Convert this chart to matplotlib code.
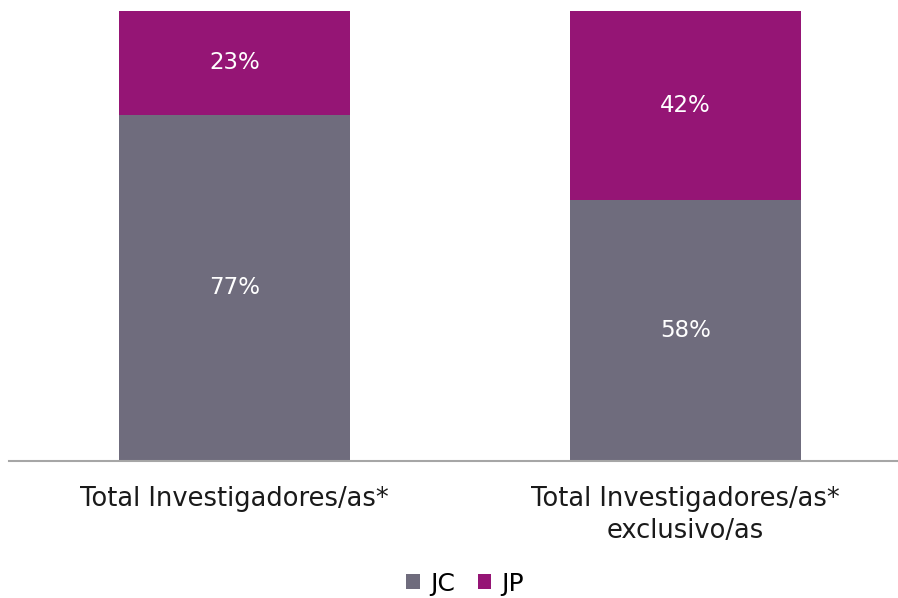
import matplotlib
matplotlib.use("Agg")
import matplotlib.pyplot as plt

categories = ["Total Investigadores/as*", "Total Investigadores/as*\nexclusivo/as"]
jc = [77, 58]
jp = [23, 42]
series_names = ["JC", "JP"]
colors = ["#6F6C7D", "#951575"]

plt.rcParams['font.family'] = ['DejaVu Sans']

fig = plt.figure(figsize=(8.98, 5.98), dpi=100)
ax = fig.add_axes([0.010, 0.229, 1.0045, 0.7525])

x = range(len(categories))
b1 = ax.bar(x, jc, width=0.512, color=colors[0], label=series_names[0])
b2 = ax.bar(x, jp, width=0.512, bottom=jc, color=colors[1], label=series_names[1])

for bars, vals, bottoms in [(b1, jc, [0, 0]), (b2, jp, jc)]:
    for rect, v, b in zip(bars, vals, bottoms):
        ax.text(rect.get_x() + rect.get_width() / 2, b + v / 2, f"{v}%",
                ha="center", va="center", color="white", fontsize=16.5)

ax.set_xlim(-0.5, 1.5)
ax.set_ylim(0, 100)
ax.set_xticks(list(x))
ax.set_xticklabels(categories, fontsize=18.5, color="#1a1a1a", linespacing=1.3)
ax.tick_params(axis="x", length=0, pad=18)
ax.set_yticks([])
for s in ["top", "left", "right"]:
    ax.spines[s].set_visible(False)
ax.spines["bottom"].set_color("#A6A6A6")
ax.spines["bottom"].set_linewidth(1.5)

fig.legend(loc="center", bbox_to_anchor=(0.518, 0.024), ncol=2, frameon=False,
           fontsize=18, handlelength=0.55, handleheight=0.55, handletextpad=0.4,
           columnspacing=0.9)

fig.savefig("out.png", dpi=100)
